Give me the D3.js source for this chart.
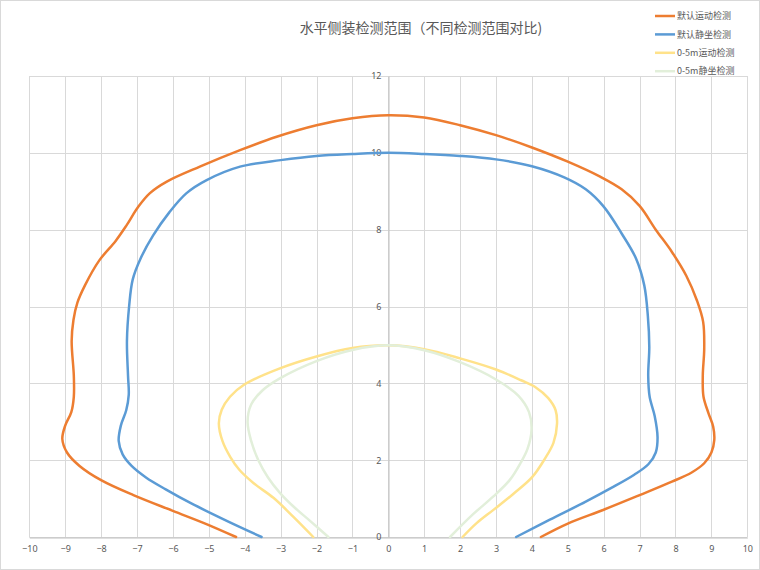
<!DOCTYPE html>
<html>
<head>
<meta charset="utf-8">
<script src="https://cdn.jsdelivr.net/npm/d3@7"></script>
<style>
  body { margin: 0; background: #fff; }
  text { font-family: "Noto Sans CJK SC", "Noto Sans", sans-serif; }
</style>
</head>
<body>
<svg id="chart" width="760" height="570"></svg>
<script>
// 数据：每条曲线从左下开始，经顶部，回到右下
var seriesNames = ["默认运动检测", "默认静坐检测", "0-5m运动检测", "0-5m静坐检测"];
var seriesColors = ["#ED7D31", "#5B9BD5", "#FFE28A", "#E2EFDA"];

var defaultMove = [[-4.24,0],[-5.1,0.35],[-6.0,0.68],[-7.1,1.09],[-8.0,1.48],[-8.6,1.85],[-8.95,2.2],[-9.08,2.55],
  [-9.0,2.9],[-8.83,3.25],[-8.76,3.65],[-8.76,4.2],[-8.82,5.1],[-8.77,5.65],[-8.66,6.1],[-8.45,6.55],[-8.05,7.2],
  [-7.6,7.7],[-7.3,8.1],[-6.96,8.6],[-6.64,8.95],[-6.17,9.25],[-5.25,9.64],[-4.13,10.07],
  [-3.11,10.42],[-2.0,10.72],[-1.0,10.9],[0,10.98],
  [1.0,10.92],[2.0,10.72],[3.0,10.46],[4.0,10.14],[5.0,9.77],[5.9,9.38],[6.5,9.05],[7.0,8.62],[7.45,8.0],
  [7.9,7.42],[8.3,6.8],[8.6,6.15],[8.77,5.6],[8.8,4.9],[8.76,4.2],[8.78,3.65],[8.92,3.22],[9.05,2.87],
  [9.08,2.52],[9.0,2.2],[8.8,1.92],[8.45,1.68],[7.9,1.44],[7.0,1.09],[6.0,0.71],[5.0,0.35],[4.25,0]];

var defaultSit = [[-3.53,0],[-4.5,0.42],[-5.5,0.88],[-6.2,1.24],[-6.75,1.55],[-7.15,1.85],[-7.4,2.15],[-7.51,2.5],
  [-7.45,2.9],[-7.3,3.3],[-7.23,3.7],[-7.25,4.2],[-7.28,5.1],[-7.22,6.0],[-7.12,6.7],[-6.9,7.25],[-6.55,7.85],
  [-6.1,8.45],[-5.62,8.95],[-5.06,9.29],[-4.13,9.64],[-3.0,9.81],[-2.0,9.92],[-1.0,9.97],[0,10],
  [1.0,9.97],[2.0,9.92],[3.0,9.83],[4.0,9.65],[4.9,9.36],[5.5,9.05],[6.0,8.6],[6.5,7.9],[6.9,7.25],
  [7.13,6.55],[7.23,5.75],[7.27,4.95],[7.24,4.2],[7.28,3.65],[7.42,3.15],[7.5,2.6],[7.45,2.2],[7.25,1.9],
  [6.85,1.62],[6.2,1.27],[5.5,0.92],[4.5,0.45],[3.56,0]];

var nearMove = [[-2.09,0],[-2.65,0.53],[-3.2,1.02],[-3.75,1.4],[-4.15,1.75],[-4.4,2.08],[-4.62,2.5],[-4.72,2.96],
  [-4.64,3.31],[-4.41,3.65],[-4.01,3.97],[-3.02,4.39],[-2.0,4.7],[-1.0,4.92],[0,4.99],
  [1.0,4.89],[2.0,4.65],[3.0,4.36],[3.7,4.08],[4.1,3.9],[4.45,3.62],[4.66,3.3],[4.7,2.95],[4.6,2.45],
  [4.35,2.02],[4.0,1.55],[3.48,1.12],[2.92,0.7],[2.46,0.36],[2.07,0]];

var nearSit = [[-1.67,0],[-2.18,0.42],[-2.65,0.8],[-3.02,1.15],[-3.35,1.55],[-3.62,2.0],[-3.82,2.5],[-3.92,3.0],
  [-3.82,3.45],[-3.5,3.82],[-3.02,4.13],[-2.0,4.58],[-1.0,4.87],[0,4.99],
  [1.0,4.86],[2.0,4.55],[3.0,4.1],[3.62,3.68],[3.92,3.25],[3.99,2.8],[3.88,2.3],[3.68,1.92],[3.38,1.48],
  [2.92,1.05],[2.37,0.6],[1.72,0]];

var xTicks = d3.range(-10, 11, 1);
var yTicks = [0, 2, 4, 6, 8, 10, 12];

var svg = d3.select("#chart");

//外边框
svg.append("rect")
  .attr("x", 0.5).attr("y", 0.5)
  .attr("width", 759).attr("height", 569)
  .attr("fill", "#fff")
  .attr("stroke", "#D9D9D9");

var x = d3.scaleLinear().domain([-10, 10]).range([29.3, 747.3]);
var y = d3.scaleLinear().domain([0, 12]).range([537, 76]);

//网格线
var grid = svg.append("g").attr("stroke", "#D9D9D9").attr("stroke-width", 1);
grid.selectAll(".vx")
  .data(xTicks)
  .enter()
  .append("line")
  .attr("x1", function (d) { return Math.round(x(d)) + 0.5; })
  .attr("x2", function (d) { return Math.round(x(d)) + 0.5; })
  .attr("y1", y(12)).attr("y2", y(0));
grid.selectAll(".hy")
  .data(yTicks)
  .enter()
  .append("line")
  .attr("y1", function (d) { return Math.round(y(d)) + 0.5; })
  .attr("y2", function (d) { return Math.round(y(d)) + 0.5; })
  .attr("x1", x(-10)).attr("x2", x(10));

//坐标轴：x轴在y=0，y轴在x=0
var xAxis = svg.append("g")
  .attr("transform", "translate(0," + (Math.round(y(0)) + 0.5) + ")")
  .call(d3.axisBottom(x).tickValues(xTicks).tickSize(0).tickPadding(8));
var yAxis = svg.append("g")
  .attr("transform", "translate(" + (Math.round(x(0)) + 0.5) + ",0)")
  .call(d3.axisLeft(y).tickValues(yTicks).tickSize(0).tickPadding(7));
[xAxis, yAxis].forEach(function (a) {
  a.select(".domain").attr("stroke", "#BFBFBF");
  a.selectAll("text").attr("fill", "#595959").style("font-size", "9px")
    .style("font-family", "'Noto Sans', sans-serif");
});

//曲线
var line = d3.line()
  .x(function (d) { return x(d[0]); })
  .y(function (d) { return y(d[1]); })
  .curve(d3.curveCatmullRom.alpha(0.5));

var allSeries = [defaultMove, defaultSit, nearMove, nearSit];
svg.append("g")
  .selectAll("path")
  .data(allSeries)
  .enter()
  .append("path")
  .attr("d", line)
  .attr("fill", "none")
  .attr("stroke", function (d, i) { return seriesColors[i]; })
  .attr("stroke-width", 2.5)
  .attr("stroke-linejoin", "round")
  .attr("stroke-linecap", "round");

//标题
svg.append("text")
  .attr("x", 421)
  .attr("y", 27)
  .attr("text-anchor", "middle")
  .attr("dominant-baseline", "central")
  .attr("fill", "#595959")
  .style("font-size", "14px")
  .text("水平侧装检测范围（不同检测范围对比)");

//图例
var legend = svg.append("g")
  .selectAll("g")
  .data(seriesNames)
  .enter()
  .append("g")
  .attr("transform", function (d, i) { return "translate(655," + (16 + i * 18.4) + ")"; });
legend.append("line")
  .attr("x1", 0).attr("x2", 20)
  .attr("stroke", function (d, i) { return seriesColors[i]; })
  .attr("stroke-width", 2.5);
legend.append("text")
  .attr("x", 22)
  .attr("dy", "0.35em")
  .attr("fill", "#595959")
  .style("font-size", "9px")
  .text(function (d) { return d; });
</script>
</body>
</html>
